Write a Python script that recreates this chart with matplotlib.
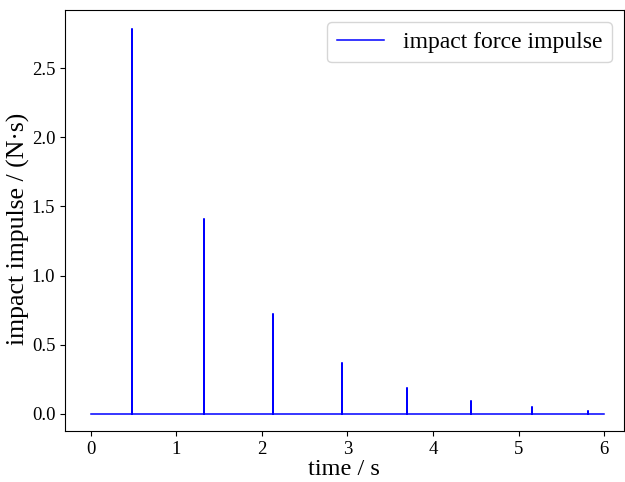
import numpy as np
import matplotlib.pyplot as plt

# impact instants and impulse magnitudes
impact_times = [0.487, 1.322, 2.129, 2.936, 3.70, 4.45, 5.16, 5.81]
impact_impulses = [2.78, 1.41, 0.72, 0.37, 0.19, 0.096, 0.05, 0.024]
t_start, t_end = 0.0, 6.0

# build the impulse signal: zero everywhere, a spike at each impact
t = [t_start]
y = [0.0]
for ti, yi in zip(impact_times, impact_impulses):
    t += [ti, ti, ti]
    y += [0.0, yi, 0.0]
t.append(t_end)
y.append(0.0)

plt.rcParams['font.family'] = ['Liberation Serif', 'DejaVu Serif']

fig = plt.figure(figsize=(6.25, 4.82), dpi=100)
ax = fig.add_axes([0.104, 0.106, 0.894, 0.873])

ax.plot(t, y, color='#0000ff', linewidth=1.1, label='impact force impulse')

ax.set_xlim(-0.30, 6.23)
ax.set_ylim(-0.123, 2.92)
ax.set_xticks(range(0, 7))
ax.set_yticks([0.0, 0.5, 1.0, 1.5, 2.0, 2.5])
ax.set_yticklabels(['0.0', '0.5', '1.0', '1.5', '2.0', '2.5'])
ax.tick_params(labelsize=13.5)

ax.set_xlabel('time / s', fontsize=17.5, labelpad=1)
ax.set_ylabel('impact impulse / (N·s)', fontsize=18.5)
ax.yaxis.set_label_coords(-0.062, 0.48)
ax.legend(loc='upper right', fontsize=17, handlelength=2.0)

fig.savefig('out.png', dpi=100)
